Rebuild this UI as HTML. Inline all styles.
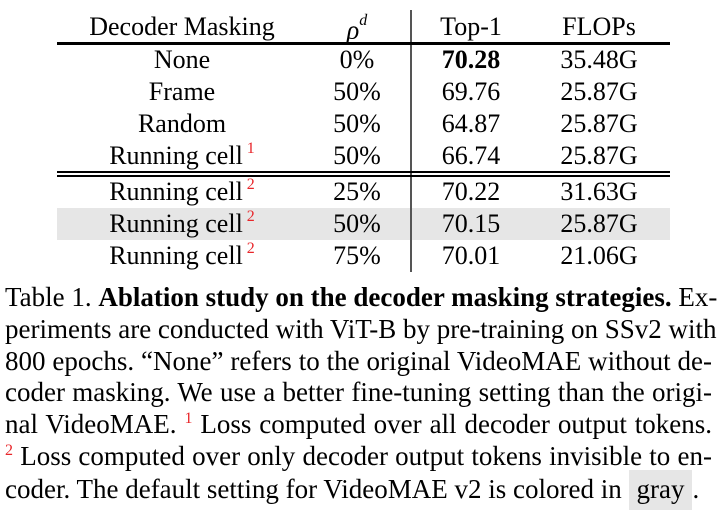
<!DOCTYPE html>
<html><head><meta charset="utf-8"><style>
body{margin:0;width:723px;height:519px;background:#fff;position:relative;overflow:hidden;font-family:"Liberation Serif","Times New Roman",Times,"Nimbus Roman","DejaVu Serif",serif;color:#000}
.c{position:absolute;height:32px;line-height:32px;font-size:26px;text-align:center;white-space:nowrap}
.c1{left:82px;width:200px}.c2{left:317px;width:80px}.c3{left:421px;width:100px}.c4{left:540px;width:118px}
sup.r{color:#e8262a;font-size:16px;vertical-align:0;position:relative;top:-11px;margin-left:4px}
.hr{position:absolute;left:57px;width:613px;background:#000}
.cap{position:absolute;left:5px;width:707px;font-size:27px;line-height:32px;height:32px;text-align:justify;text-align-last:justify;white-space:nowrap}
.cap sup{color:#e8262a;font-size:16px;vertical-align:0;position:relative;top:-10px}
</style></head><body>
<div style="position:absolute;left:57px;top:208px;width:613px;height:32px;background:#e6e6e6"></div>
<div style="position:absolute;left:410px;top:10px;width:2px;height:262px;background:#555"></div>
<div class="hr" style="top:42px;height:3px"></div>
<div class="hr" style="top:171px;height:2px"></div>
<div class="hr" style="top:175px;height:2px"></div>

<div class="c c1" style="top:11px">Decoder Masking</div>
<div class="c c2" style="top:9px"><i>ρ</i><sup style="font-size:16px;font-style:italic;position:relative;top:-4px">d</sup></div>
<div class="c c3" style="top:11px">Top-1</div>
<div class="c c4" style="top:11px">FLOPs</div>

<div class="c c1" style="top:44px">None</div><div class="c c2" style="top:44px">0%</div><div class="c c3" style="top:44px"><b>70.28</b></div><div class="c c4" style="top:44px">35.48G</div>
<div class="c c1" style="top:76px">Frame</div><div class="c c2" style="top:76px">50%</div><div class="c c3" style="top:76px">69.76</div><div class="c c4" style="top:76px">25.87G</div>
<div class="c c1" style="top:108px">Random</div><div class="c c2" style="top:108px">50%</div><div class="c c3" style="top:108px">64.87</div><div class="c c4" style="top:108px">25.87G</div>
<div class="c c1" style="top:140px">Running cell<sup class="r">1</sup></div><div class="c c2" style="top:140px">50%</div><div class="c c3" style="top:140px">66.74</div><div class="c c4" style="top:140px">25.87G</div>
<div class="c c1" style="top:176px">Running cell<sup class="r">2</sup></div><div class="c c2" style="top:176px">25%</div><div class="c c3" style="top:176px">70.22</div><div class="c c4" style="top:176px">31.63G</div>
<div class="c c1" style="top:208px">Running cell<sup class="r">2</sup></div><div class="c c2" style="top:208px">50%</div><div class="c c3" style="top:208px">70.15</div><div class="c c4" style="top:208px">25.87G</div>
<div class="c c1" style="top:240px">Running cell<sup class="r">2</sup></div><div class="c c2" style="top:240px">75%</div><div class="c c3" style="top:240px">70.01</div><div class="c c4" style="top:240px">21.06G</div>

<div class="cap" style="top:281px">Table 1. <b>Ablation study on the decoder masking strategies.</b> Ex-</div>
<div class="cap" style="top:313px">periments are conducted with ViT-B by pre-training on SSv2 with</div>
<div class="cap" style="top:345px">800 epochs. “None” refers to the original VideoMAE without de-</div>
<div class="cap" style="top:376px">coder masking. We use a better fine-tuning setting than the origi-</div>
<div class="cap" style="top:408px">nal VideoMAE. <sup>1</sup> Loss computed over all decoder output tokens.</div>
<div class="cap" style="top:440px"><sup>2</sup> Loss computed over only decoder output tokens invisible to en-</div>
<div class="cap" style="top:473px;text-align-last:left;text-align:left">coder. The default setting for VideoMAE v2 is colored in <span style="background:#e6e6e6;padding:4px 8px 6px">gray</span>.</div>
</body></html>
